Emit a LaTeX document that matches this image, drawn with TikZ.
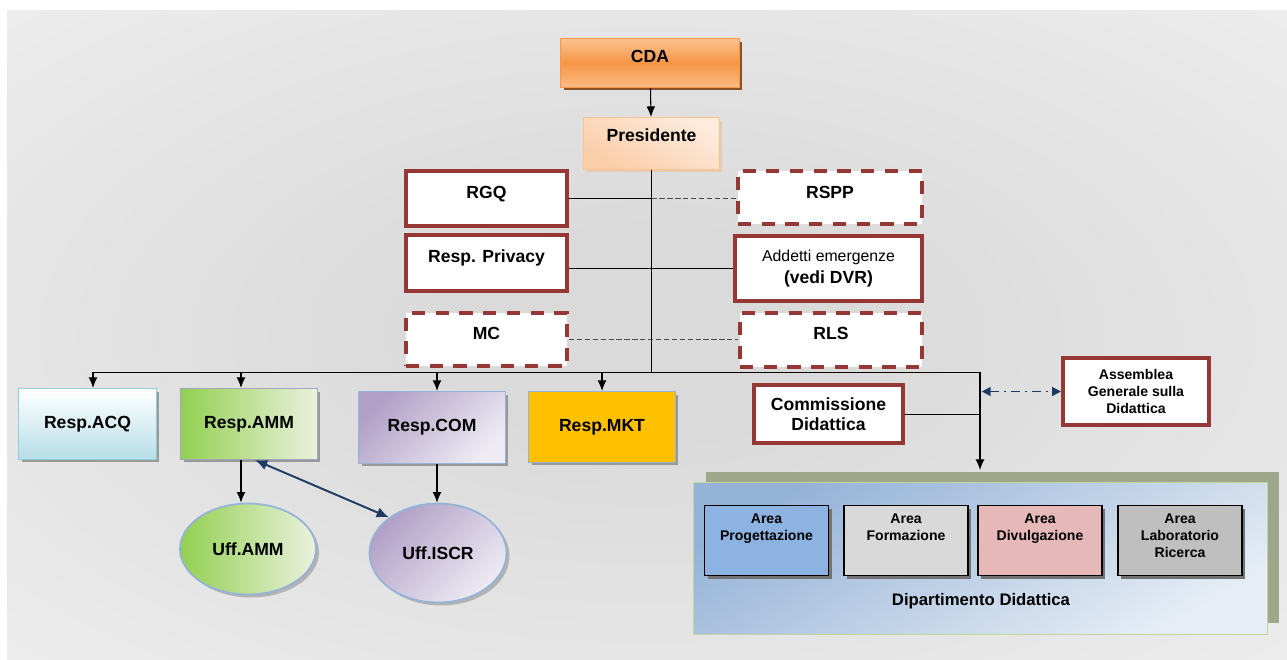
\documentclass[tikz,border=0pt]{standalone}
\usepackage{fontspec}
\setmainfont{Liberation Sans}
\usetikzlibrary{arrows.meta,shadows,shapes.geometric}

\definecolor{bgin}{HTML}{DADADA}
\definecolor{bgout}{HTML}{F6F6F6}
\definecolor{redline}{HTML}{953735}
\definecolor{navyC}{HTML}{1F3B63}
\definecolor{orangeA}{HTML}{F79646}
\definecolor{orangeB}{HTML}{FAC291}
\definecolor{peachA}{HTML}{FBCDA8}
\definecolor{peachB}{HTML}{FDEBDD}
\definecolor{skyA}{HTML}{B7DEE8}
\definecolor{skyline}{HTML}{93CDDD}
\definecolor{greenA}{HTML}{92D050}
\definecolor{greenB}{HTML}{EBF1DE}
\definecolor{lilacA}{HTML}{B1A0C7}
\definecolor{lilacB}{HTML}{EEEBF4}
\definecolor{lilacline}{HTML}{A5A5C0}
\definecolor{goldC}{HTML}{FFC000}
\definecolor{steel}{HTML}{95B3D7}
\definecolor{oliveC}{HTML}{9FA78A}
\definecolor{deptA}{HTML}{95B3D7}
\definecolor{deptB}{HTML}{E6EDF6}
\definecolor{limeC}{HTML}{C3D69B}
\definecolor{areablue}{HTML}{8DB3E2}
\definecolor{arearose}{HTML}{E6B9B8}

\pgfdeclareradialshading{bgshade}{\pgfpoint{0bp}{0bp}}{color(0bp)=(bgin); color(8bp)=(bgin); color(50bp)=(bgout)}

\tikzset{
  txt/.style={font=\bfseries\fontsize{10}{11.3}\selectfont, align=center, inner sep=2pt},
  smalltxt/.style={font=\bfseries\fontsize{8}{9.6}\selectfont, align=center, inner sep=2pt},
  dshadow/.style={drop shadow={shadow xshift=0.06cm, shadow yshift=-0.06cm, fill=#1, opacity=1}},
  redbox/.style={txt, draw=redline, line width=2.3pt, fill=white},
  reddash/.style={redbox, dash pattern=on 7.5pt off 6pt},
  resp/.style={txt, draw=#1, line width=0.6pt, dshadow=black!40},
  area/.style={smalltxt, draw=black, line width=0.7pt, minimum width=2.48cm, minimum height=1.4cm, dshadow=black!55},
  arr/.style={-{Latex[length=6pt,width=5pt]}, line width=0.6pt},
  link/.style={line width=0.5pt},
  dlink/.style={line width=0.6pt, draw=black!70, dash pattern=on 3pt off 1.5pt},
  twoway/.style={{Latex[length=7pt,width=6pt]}-{Latex[length=7pt,width=6pt]}, draw=navyC, line width=1.1pt},
  dotway/.style={{Triangle[length=5pt,width=5pt]}-{Triangle[length=5pt,width=5pt]}, draw=navyC, line width=0.9pt, dash pattern=on 5pt off 3pt on 1pt off 3pt},
}

\begin{document}
\begin{tikzpicture}[x=0.02cm,y=-0.02cm]
\useasboundingbox (0,0) rectangle (1287,659);
\shade[shading=bgshade] (7,10) rectangle (1287,659);

% vertice
\node[txt, draw=orangeA, line width=0.6pt, top color=orangeB, bottom color=orangeB!85!orangeA, middle color=orangeA,
  dshadow=orangeA!55!black, minimum width=3.58cm, minimum height=0.98cm, text depth=0.28cm] (cda) at (650,63) {CDA};
\node[txt, draw=orangeB, line width=0.6pt, top color=peachB, bottom color=peachA, shading angle=-30,
  dshadow=brown!40, minimum width=2.72cm, minimum height=1.04cm, text depth=0.34cm] (pres) at (651.5,143.5) {Presidente};

% staff
\node[redbox, minimum width=3.22cm, minimum height=1.1cm, text depth=0.26cm] (rgq) at (486.5,198.5) {RGQ};
\node[redbox, minimum width=3.22cm, minimum height=1.12cm, text depth=0.28cm] (priv) at (486.5,263) {Resp. Privacy};
\node[reddash, minimum width=3.22cm, minimum height=1.06cm, text depth=0.26cm] (mc) at (486.5,339.5) {MC};
\node[reddash, minimum width=3.68cm, minimum height=1.06cm, text depth=0.22cm] (rspp) at (830,197.5) {RSPP};
\node[redbox, minimum width=3.74cm, minimum height=1.3cm, font=\fontsize{9}{12.5}\selectfont] (addetti) at (828.5,268.5)
  {Addetti emergenze\\{\bfseries\fontsize{10}{12.5}\selectfont (vedi DVR)}};
\node[reddash, minimum width=3.64cm, minimum height=1.08cm, text depth=0.28cm] (rls) at (831,340) {RLS};

% responsabili
\node[resp=skyline, top color=white, bottom color=skyA, minimum width=2.76cm, minimum height=1.42cm] (acq) at (87.5,424) {Resp.ACQ};
\node[resp=lilacline, left color=greenA, right color=greenB, minimum width=2.74cm, minimum height=1.42cm] (amm) at (249,424) {Resp.AMM};
\node[resp=steel, top color=lilacA, bottom color=lilacB, shading angle=45, minimum width=2.94cm, minimum height=1.44cm] (com) at (432,427.5) {Resp.COM};
\node[resp=steel, fill=goldC, minimum width=2.94cm, minimum height=1.42cm] (mkt) at (602,427) {Resp.MKT};

% uffici
\node[txt, ellipse, draw=steel, line width=1pt, left color=greenA, right color=greenB, dshadow=black!30,
  minimum width=2.72cm, minimum height=1.82cm] (uamm) at (248,549) {Uff.AMM};
\node[txt, ellipse, draw=steel, line width=1pt, top color=lilacA, bottom color=lilacB, shading angle=45, dshadow=black!30,
  minimum width=2.74cm, minimum height=1.98cm] (uiscr) at (438,553) {Uff.ISCR};

% didattica
\node[redbox, minimum width=2.98cm, minimum height=1.16cm] (comm) at (828.5,414) {Commissione\\Didattica};
\node[redbox, smalltxt, minimum width=2.92cm, minimum height=1.34cm] (asm) at (1136,391.5) {Assemblea\\Generale sulla\\Didattica};

\node[draw=limeC, line width=0.6pt, top color=deptA, bottom color=deptB, shading angle=30,
  drop shadow={shadow xshift=0.24cm, shadow yshift=0.22cm, fill=oliveC, opacity=1},
  minimum width=11.48cm, minimum height=3.04cm] (dept) at (980.5,558.5) {};
\node[area, fill=areablue, text depth=0.52cm] (aprog) at (766.5,540.5) {Area\\Progettazione};
\node[area, fill=black!15, text depth=0.52cm] (aform) at (906,540.5) {Area\\Formazione};
\node[area, fill=arearose, text depth=0.52cm] (adiv) at (1040,540.5) {Area\\Divulgazione};
\node[area, fill=black!25, text depth=0.2cm] (alab) at (1180,540.5) {Area\\Laboratorio\\Ricerca};
\node[txt, font=\bfseries\fontsize{9.5}{11}\selectfont] (dlab) at (981,601) {Dipartimento Didattica};

% collegamenti
\coordinate (busL) at (93,372);
\coordinate (busR) at (980,372);
\coordinate (tAMM) at (241,372);
\coordinate (tCOM) at (437,372);
\coordinate (dtop) at (980,470);

\draw[arr] (cda) -- (pres);
\draw[link] (pres.south) -- (pres.south |- busR);
\draw[link] (rgq.east) -- (rgq.east -| pres.south);
\draw[dlink] (rgq.east -| pres.south) -- (rgq.east -| rspp.west);
\draw[link] (addetti.west -| priv.east) -- (addetti.west);
\draw[dlink] (mc.east) -- (mc.east -| rls.west);

\draw[link] (busL) -- (busR);
\draw[arr] (busL) -- (busL |- acq.north);
\draw[arr] (tAMM) -- (tAMM |- amm.north);
\draw[arr] (tCOM) -- (tCOM |- com.north);
\draw[arr] (mkt.north |- busR) -- (mkt.north);
\draw[arr] (busR) -- (dtop);

\draw[arr] (tAMM |- amm.south) -- (tAMM |- uamm.north);
\draw[arr] (tCOM |- com.south) -- (tCOM |- uiscr.north);
\draw[twoway] ([xshift=0.12cm]amm.south) -- (uiscr.north west);

\draw[link] (comm.east) -- (comm.east -| busR);
\draw[dotway, shorten <=1pt] (asm.west -| busR) -- (asm.west);

\end{tikzpicture}
\end{document}
